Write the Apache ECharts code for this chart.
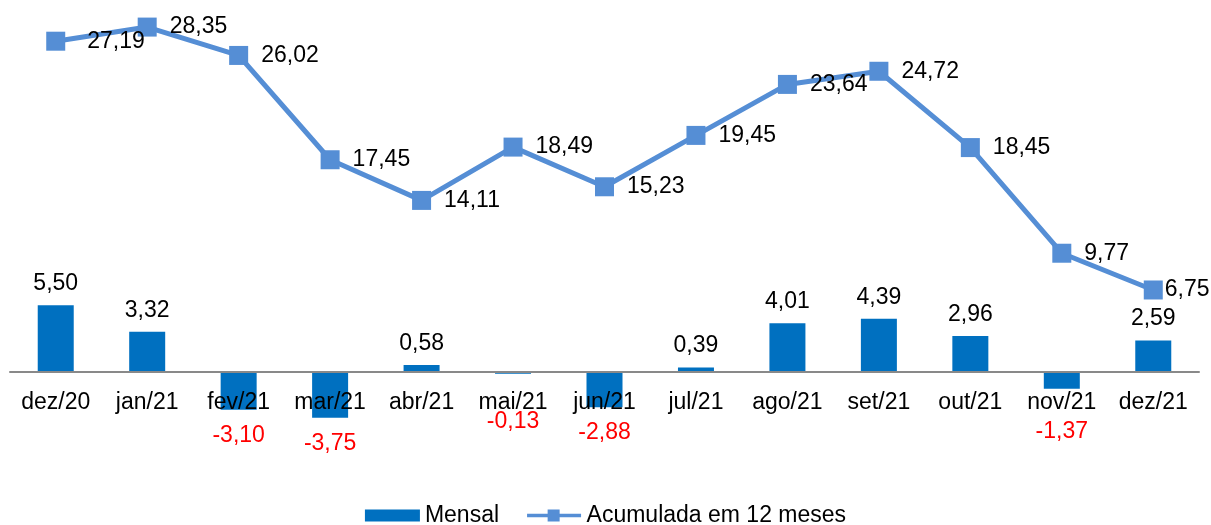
<!DOCTYPE html>
<html>
<head>
<meta charset="utf-8">
<script src="https://cdn.jsdelivr.net/npm/echarts@6/dist/echarts.min.js"></script>
<style>
html,body{margin:0;padding:0;background:#fff;}
#chart{width:1211px;height:525px;}
</style>
</head>
<body>
<div id="chart"></div>
<script>
const categories = ['dez/20','jan/21','fev/21','mar/21','abr/21','mai/21','jun/21','jul/21','ago/21','set/21','out/21','nov/21','dez/21'];
const mensal = [5.50, 3.32, -3.10, -3.75, 0.58, -0.13, -2.88, 0.39, 4.01, 4.39, 2.96, -1.37, 2.59];
const acumulada = [27.19, 28.35, 26.02, 17.45, 14.11, 18.49, 15.23, 19.45, 23.64, 24.72, 18.45, 9.77, 6.75];
const seriesNames = ['Mensal', 'Acumulada em 12 meses'];

const FONT = "'Liberation Sans', Arial, sans-serif";
const FS = 23;
const yMin = -5, yMax = 30;
const gridTop = 7, gridBottom = 92, H = 525;
const pxPerUnit = (H - gridTop - gridBottom) / (yMax - yMin);
const fmt = v => v.toFixed(2).replace('.', ',');

const barData = mensal.map(v => {
  if (v >= 0) return { value: v };
  const a = Math.abs(v);
  return {
    value: v,
    label: {
      position: 'bottom',
      distance: Math.max(14, 37 + Math.min(a, 1.5) * 8 - a * pxPerUnit),
      color: '#FF0000'
    }
  };
});
const lineData = acumulada.map((v, i) => {
  if (i === acumulada.length - 1) return { value: v, label: { distance: 2 } };
  if (i === 0) return { value: v, label: { distance: 22 } };
  return { value: v };
});

const chart = echarts.init(document.getElementById('chart'), null, { renderer: 'canvas' });
chart.setOption({
  animation: false,
  textStyle: { fontFamily: FONT },
  grid: { left: 10, right: 12, top: gridTop, bottom: gridBottom },
  legend: {
    top: 499,
    left: 'center',
    itemWidth: 55,
    itemHeight: 12,
    itemGap: 28,
    textStyle: { fontFamily: FONT, fontSize: FS, color: '#000' },
    data: [
      { name: seriesNames[0], icon: 'rect' },
      { name: seriesNames[1], icon: 'path://M0,5 L63,5 L63,9 L0,9 Z M24,0 L38,0 L38,14 L24,14 Z' }
    ]
  },
  xAxis: {
    type: 'category',
    data: categories,
    boundaryGap: true,
    z: 10,
    axisLine: { onZero: true, lineStyle: { color: '#898989', width: 2 } },
    axisTick: { show: false },
    axisLabel: { interval: 0, fontFamily: FONT, fontSize: FS, color: '#000', margin: -42 }
  },
  yAxis: {
    type: 'value',
    min: yMin,
    max: yMax,
    show: false,
    splitLine: { show: false }
  },
  series: [
    {
      name: seriesNames[0],
      type: 'bar',
      data: barData,
      barWidth: 36,
      itemStyle: { color: '#0070C0' },
      z: 2,
      label: {
        show: true,
        position: 'top',
        distance: 10,
        fontFamily: FONT,
        fontSize: FS,
        color: '#000',
        formatter: p => fmt(p.value)
      }
    },
    {
      name: seriesNames[1],
      type: 'line',
      data: lineData,
      symbol: 'rect',
      symbolSize: 19,
      showAllSymbol: true,
      lineStyle: { color: '#558ED5', width: 5 },
      itemStyle: { color: '#558ED5' },
      z: 3,
      label: {
        show: true,
        position: 'right',
        distance: 13,
        fontFamily: FONT,
        fontSize: FS,
        color: '#000',
        formatter: p => fmt(p.value)
      }
    }
  ]
});
</script>
</body>
</html>
